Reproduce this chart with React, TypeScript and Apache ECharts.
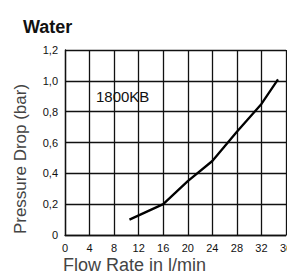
import React, { useEffect, useRef } from "react";
import * as echarts from "echarts";

const flowRate = [10.5, 16, 20, 24, 28, 32, 34.7];
const pressureDrop = [0.1, 0.2, 0.35, 0.48, 0.67, 0.85, 1.01];
const titleText = "Water";
const seriesLabel = "1800KB";
const xTitle = "Flow Rate in l/min";
const yTitle = "Pressure Drop (bar)";

const FONT = "'Liberation Sans', Arial, Helvetica, sans-serif";

export default function App() {
  const ref = useRef<HTMLDivElement>(null);
  useEffect(() => {
    if (!ref.current) return;
    const chart = echarts.init(ref.current, undefined, { renderer: "svg" });
    chart.setOption({
      animation: false,
      backgroundColor: "#ffffff",
      grid: {
        left: 65,
        top: 50,
        right: 1,
        bottom: 39,
        containLabel: false,
        outerBoundsMode: "none",
      },
      title: {
        text: titleText,
        left: 18,
        top: 13,
        textStyle: { fontFamily: FONT, fontSize: 18, fontWeight: "bold", color: "#111" },
      },
      xAxis: {
        type: "value",
        min: 0,
        max: 36,
        interval: 4,
        axisLine: { show: true, lineStyle: { color: "#111", width: 1.3 } },
        axisTick: { show: false },
        splitLine: { show: true, lineStyle: { color: "#111", width: 1.3 } },
        axisLabel: {
          fontFamily: FONT,
          fontSize: 11,
          color: "#111",
          margin: 7,
          showMaxLabel: true,
          hideOverlap: false,
        },
      },
      yAxis: {
        type: "value",
        min: 0,
        max: 1.2,
        interval: 0.2,
        axisLine: { show: true, lineStyle: { color: "#111", width: 1.3 } },
        axisTick: { show: false },
        splitLine: { show: true, lineStyle: { color: "#111", width: 1.3 } },
        axisLabel: {
          fontFamily: FONT,
          fontSize: 11,
          color: "#111",
          margin: 7,
          formatter: (v: number) => (v === 0 ? "0" : v.toFixed(1).replace(".", ",")),
        },
      },
      graphic: [
        {
          type: "text",
          left: 96,
          top: 89,
          style: { text: seriesLabel, fontFamily: FONT, fontSize: 15, fill: "#111" },
        },
        {
          type: "text",
          left: 63,
          top: 256,
          style: { text: xTitle, fontFamily: FONT, fontSize: 18, fill: "#444" },
        },
        {
          type: "text",
          x: 20,
          y: 159,
          rotation: Math.PI / 2,
          style: {
            text: yTitle,
            fontFamily: FONT,
            fontSize: 17,
            fill: "#444",
            align: "center",
            verticalAlign: "middle",
          },
        },
      ],
      series: [
        {
          type: "line",
          data: flowRate.map((x, i) => [x, pressureDrop[i]]),
          showSymbol: false,
          symbol: "none",
          lineStyle: { color: "#000", width: 2.3 },
        },
      ],
    });
    return () => chart.dispose();
  }, []);
  return (
    <div
      ref={ref}
      style={{ position: "fixed", left: 0, top: 0, width: 287, height: 274 }}
    />
  );
}
